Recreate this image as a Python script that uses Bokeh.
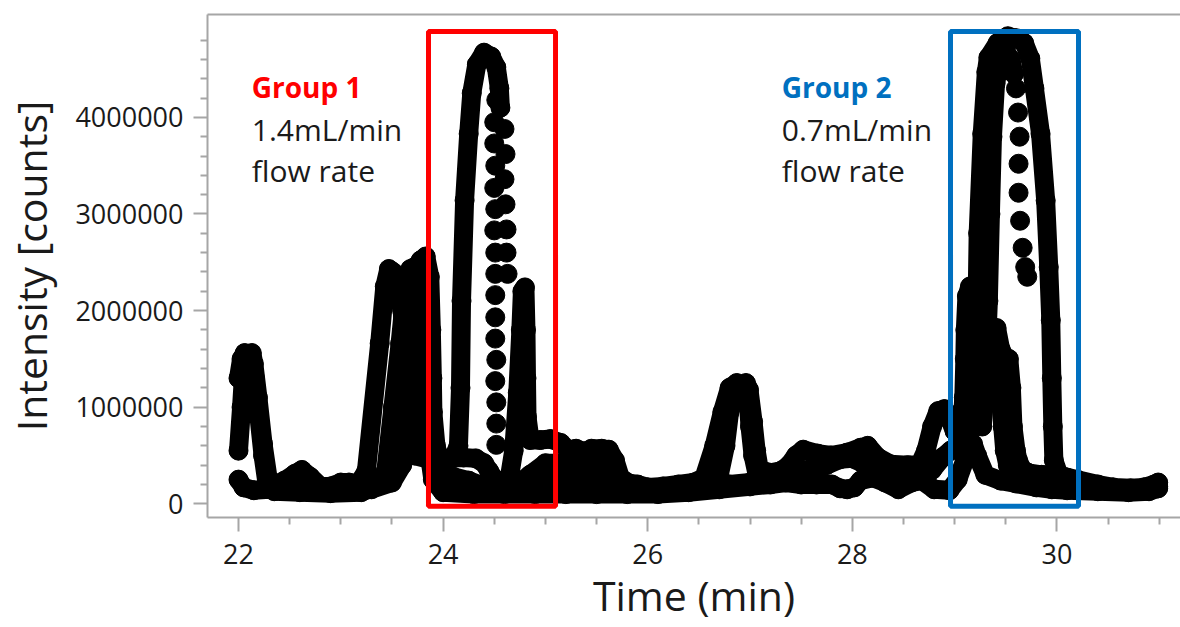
from bokeh.plotting import figure
from bokeh.models import (Range1d, FixedTicker, NumeralTickFormatter, LinearAxis,
                          BoxAnnotation, Label)
from bokeh.embed import file_html
from bokeh.resources import INLINE

# ---------------------------------------------------------------------------
# Overlaid chromatogram runs: retention time (min) and intensity (million counts)
# ---------------------------------------------------------------------------
run_a_time = [22.00, 22.03, 22.06, 22.10, 22.13, 22.15, 22.19, 22.24, 22.29, 22.36,
              22.45, 22.55, 22.62, 22.70, 22.80, 22.90, 23.00, 23.08, 23.15, 23.20,
              23.25, 23.38, 23.43, 23.47, 23.51, 23.56, 23.60, 23.64, 23.68, 23.72,
              23.90, 24.05, 24.20, 24.32, 24.40, 24.45, 24.50, 24.58, 24.64, 24.69,
              24.73, 24.76, 24.775, 24.80, 24.81, 24.815, 24.82, 24.85, 24.95, 25.05,
              25.15, 25.22, 25.30, 25.38, 25.45, 25.55, 25.62, 25.68, 25.73, 25.80,
              25.90, 26.00, 26.15, 26.30, 26.45, 26.55, 26.65, 26.73, 26.80, 26.87,
              26.92, 26.96, 26.99, 27.03, 27.06, 27.09, 27.20, 27.30, 27.38,
              27.45, 27.52, 27.66, 27.79, 27.95, 28.08, 28.15, 28.25, 28.37, 28.54,
              28.66, 28.72, 28.78, 28.84, 28.90, 28.95, 29.00, 29.10, 29.20, 29.28,
              29.33, 29.37, 29.41, 29.45, 29.49, 29.53, 29.555, 29.57, 29.60, 29.62,
              29.66, 29.72, 29.85, 30.00, 30.20, 30.40, 30.55, 30.72, 30.85, 30.95,
              30.99]
run_a_int = [1.30, 1.50, 1.56, 1.55, 1.56, 1.45, 1.10, 0.62, 0.26, 0.20,
             0.24, 0.31, 0.35, 0.28, 0.18, 0.18, 0.22, 0.22, 0.20, 0.25,
             0.34, 1.66, 2.25, 2.43, 2.40, 2.30, 2.00, 1.40, 0.80, 0.50,
             0.45, 0.47, 0.48, 0.47, 0.42, 0.34, 0.26, 0.17, 0.22, 0.55,
             1.15, 1.80, 2.20, 2.24, 1.80, 1.30, 0.90, 0.66, 0.66, 0.67,
             0.63, 0.56, 0.57, 0.54, 0.57, 0.57, 0.56, 0.45, 0.28, 0.22,
             0.20, 0.17, 0.18, 0.20, 0.22, 0.27, 0.60, 0.95, 1.20, 1.25,
             1.22, 1.25, 1.18, 0.85, 0.55, 0.36, 0.32, 0.34, 0.40,
             0.50, 0.56, 0.52, 0.50, 0.53, 0.58, 0.60, 0.48, 0.41, 0.40,
             0.41, 0.55, 0.80, 0.96, 0.98, 0.88, 0.75, 0.80, 0.85, 1.10,
             1.45, 1.78, 1.82, 1.60, 1.52, 1.50, 1.20, 0.80, 0.55, 0.45,
             0.36, 0.32, 0.30, 0.30, 0.25, 0.20, 0.17, 0.16, 0.17, 0.20,
             0.22]

run_b_time = [22.00, 22.03, 22.05, 22.08, 22.12, 22.16, 22.20, 22.24, 22.28, 22.35,
              22.60, 22.90, 23.20, 23.35, 23.44, 23.51, 23.58, 23.63, 23.68, 23.72,
              23.76, 23.80, 23.84, 23.90, 24.00, 24.30, 24.60, 24.90, 25.20, 25.50,
              25.80, 26.10, 26.40, 26.70, 27.00, 27.20, 27.35, 27.50, 27.65, 27.80,
              27.88, 27.95, 28.02, 28.08, 28.20, 28.32, 28.45, 28.58, 28.68, 28.80,
              28.95, 29.03, 29.10, 29.15, 29.18, 29.22, 29.30, 29.45, 29.60, 29.80,
              29.95, 30.10, 30.40, 30.70, 30.90, 30.99]
run_b_int = [0.55, 1.00, 1.35, 1.50, 1.52, 1.30, 0.90, 0.50, 0.20, 0.13,
             0.12, 0.11, 0.12, 0.18, 0.34, 1.00, 1.66, 2.20, 2.43, 2.45,
             2.25, 1.50, 0.70, 0.25, 0.12, 0.10, 0.10, 0.10, 0.10, 0.10,
             0.10, 0.10, 0.12, 0.15, 0.18, 0.20, 0.22, 0.20, 0.20, 0.20,
             0.16, 0.15, 0.17, 0.24, 0.27, 0.22, 0.15, 0.22, 0.24, 0.15,
             0.14, 0.25, 0.45, 0.60, 0.62, 0.50, 0.30, 0.24, 0.21, 0.17,
             0.15, 0.14, 0.13, 0.12, 0.13, 0.16]

run_c_time = [22.00, 22.05, 22.15, 22.30, 22.50, 22.70, 22.90, 23.10, 23.30, 23.50,
              23.60, 23.66, 23.72, 23.78, 23.83, 23.87, 23.885, 23.895, 23.90, 23.93,
              24.00, 24.10, 24.25, 24.40, 24.55, 24.70, 24.85, 25.00, 25.15, 25.30,
              25.45, 25.60, 25.70, 25.80, 25.95, 26.10, 26.30, 26.50, 26.80, 27.00,
              27.15, 27.30, 27.45, 27.60, 27.75, 27.88, 28.00, 28.10, 28.22, 28.35,
              28.50, 28.65, 28.78, 28.88, 28.96, 29.03, 29.07, 29.09, 29.10, 29.105,
              29.12, 29.15, 29.19, 29.28, 29.36, 29.44, 29.47, 29.49, 29.52, 29.60,
              29.80, 30.00, 30.30, 30.60, 30.85, 30.99]
run_c_int = [0.25, 0.17, 0.14, 0.15, 0.16, 0.14, 0.13, 0.14, 0.15, 0.22,
             0.40, 1.20, 2.20, 2.52, 2.56, 2.35, 1.80, 1.30, 0.95, 0.60,
             0.32, 0.28, 0.24, 0.18, 0.14, 0.18, 0.30, 0.42, 0.42, 0.38,
             0.40, 0.40, 0.30, 0.18, 0.15, 0.14, 0.16, 0.18, 0.20, 0.22,
             0.25, 0.30, 0.34, 0.36, 0.40, 0.46, 0.47, 0.42, 0.36, 0.32,
             0.30, 0.30, 0.35, 0.48, 0.55, 0.60, 0.80, 1.10, 1.50, 1.80,
             2.15, 2.25, 2.10, 1.75, 1.55, 1.20, 0.80, 0.55, 0.40, 0.30,
             0.25, 0.22, 0.19, 0.15, 0.15, 0.18]

run_d_time = [24.56, 24.70, 24.85, 25.00, 25.15, 25.30, 25.45, 25.60, 25.72, 25.85,
              26.00, 26.20, 26.40, 26.60, 26.70, 26.76, 26.80, 26.84, 26.90, 26.95,
              26.98, 27.00, 27.03, 27.07, 27.15, 27.25]
run_d_int = [0.13, 0.14, 0.20, 0.24, 0.26, 0.24, 0.25, 0.24, 0.18, 0.13,
             0.12, 0.13, 0.15, 0.17, 0.30, 0.60, 0.95, 1.15, 1.20, 1.18,
             1.10, 0.80, 0.50, 0.30, 0.25, 0.24]

# Group 1 main peak: densely sampled rise, sparsely sampled tail
g1_apex_time = [24.10, 24.15, 24.17, 24.18, 24.21, 24.25, 24.28, 24.33, 24.40, 24.47,
                24.52, 24.55, 24.56]
g1_apex_int = [0.48, 0.60, 1.20, 2.10, 3.14, 3.83, 4.25, 4.55, 4.67, 4.63,
               4.52, 4.30, 4.10]
g1_tail_time = [24.52, 24.50, 24.50, 24.51, 24.50, 24.51, 24.50, 24.51, 24.51, 24.51,
                24.51, 24.51, 24.52, 24.51, 24.52, 24.52, 24.52,
                24.60, 24.61, 24.60, 24.61, 24.62, 24.62, 24.63]
g1_tail_int = [4.18, 3.95, 3.73, 3.50, 3.27, 3.05, 2.83, 2.60, 2.38, 2.16,
               1.93, 1.71, 1.49, 1.27, 1.05, 0.83, 0.61,
               3.88, 3.62, 3.36, 3.10, 2.84, 2.60, 2.38]

# Group 2 main peak: two overlapping runs
g2_outer_time = [29.14, 29.17, 29.20, 29.22, 29.23, 29.27, 29.31, 29.33, 29.42, 29.52,
                 29.60, 29.68, 29.74, 29.78, 29.84, 29.89, 29.92, 29.94, 29.95, 29.96,
                 29.97, 30.02, 30.10]
g2_outer_int = [0.70, 1.00, 1.60, 2.10, 2.80, 3.83, 4.47, 4.62, 4.77, 4.84,
                4.82, 4.77, 4.61, 4.30, 3.83, 3.14, 2.45, 1.90, 1.30, 0.80,
                0.45, 0.30, 0.27]
g2_inner_time = [29.27, 29.30, 29.33, 29.35, 29.37, 29.40, 29.45, 29.50, 29.55, 29.58]
g2_inner_int = [0.80, 1.30, 2.10, 3.00, 3.80, 4.35, 4.62, 4.68, 4.60, 4.45]
g2_tail_time = [29.60, 29.62, 29.635, 29.625, 29.625, 29.64, 29.665, 29.69, 29.71]
g2_tail_int = [4.30, 4.05, 3.80, 3.52, 3.22, 2.93, 2.65, 2.45, 2.35]

# Highlighted retention windows (min) and their notes
group_windows = [(23.857, 25.099), (28.96, 30.211)]
group_titles = ["Group 1", "Group 2"]
group_rates = ["1.4mL/min", "0.7mL/min"]
group_colors = ["#FF0000", "#0070C0"]

# Axis ticks
time_ticks = [22, 24, 26, 28, 30]
time_minor = [22.5, 23, 23.5, 24.5, 25, 25.5, 26.5, 27, 27.5, 28.5, 29, 29.5, 30.5, 31]
intensity_ticks = [0, 1000000, 2000000, 3000000, 4000000]
intensity_minor = [200000, 400000, 600000, 800000, 1200000, 1400000, 1600000, 1800000,
                   2200000, 2400000, 2600000, 2800000, 3200000, 3400000, 3600000,
                   3800000, 4200000, 4400000, 4600000, 4800000]

MILLION = 1e6
DOT = 19
AXIS_GRAY = "#a6a6a6"
TEXT = "#1a1a1a"
FONT = "Open Sans"


def counts(values):
    return [v * MILLION for v in values]


p = figure(width=1180, height=627, output_backend="svg", toolbar_location=None,
           x_range=Range1d(21.697, 31.208), y_range=Range1d(-0.142e6, 5.065e6),
           min_border_left=207, min_border_right=0, min_border_top=14,
           min_border_bottom=110)
p.background_fill_color = "white"
p.border_fill_color = "white"
p.outline_line_color = None
p.xgrid.visible = False
p.ygrid.visible = False

# runs sampled densely enough that the markers merge into a band
banded = [(run_a_time, run_a_int), (run_b_time, run_b_int), (run_c_time, run_c_int),
          (run_d_time, run_d_int), (g1_apex_time, g1_apex_int),
          (g2_outer_time, g2_outer_int), (g2_inner_time, g2_inner_int)]
for t, v in banded:
    y = counts(v)
    p.line(t, y, line_width=DOT, line_color="black", line_join="round", line_cap="round")
    p.scatter(t, y, marker="circle", size=DOT, fill_color="black", line_color="black")

# sparse tails where single markers stand apart
for t, v in [(g1_tail_time, g1_tail_int), (g2_tail_time, g2_tail_int)]:
    p.scatter(t, counts(v), marker="circle", size=DOT, fill_color="black", line_color="black")

# highlight windows
for (left, right), color in zip(group_windows, group_colors):
    p.add_layout(BoxAnnotation(left=left, right=right, bottom=-0.025e6, top=4.889e6,
                               fill_color=None, fill_alpha=0, line_color=color,
                               line_alpha=1.0, line_width=5))

# window notes
note_x = [22.13, 27.31]
for x, title, rate, color in zip(note_x, group_titles, group_rates, group_colors):
    p.add_layout(Label(x=x, y=4.31e6, text=title, text_color=color, text_font=FONT,
                       text_font_style="bold", text_font_size="28px",
                       text_baseline="alphabetic"))
    p.add_layout(Label(x=x, y=3.877e6, text=rate, text_color=TEXT, text_font=FONT,
                       text_font_size="30px", text_baseline="alphabetic"))
    p.add_layout(Label(x=x, y=3.452e6, text="flow rate", text_color=TEXT,
                       text_font=FONT, text_font_size="30px", text_baseline="alphabetic"))

# axes
p.xaxis.ticker = FixedTicker(ticks=time_ticks, minor_ticks=time_minor)
p.yaxis.ticker = FixedTicker(ticks=intensity_ticks, minor_ticks=intensity_minor)
p.yaxis.formatter = NumeralTickFormatter(format="0")
p.xaxis.axis_label = "Time (min)"
p.yaxis.axis_label = "Intensity [counts]"

for ax in (p.xaxis[0], p.yaxis[0]):
    ax.axis_line_color = AXIS_GRAY
    ax.axis_line_width = 2
    ax.major_tick_line_color = AXIS_GRAY
    ax.major_tick_line_width = 2
    ax.major_tick_out = 14
    ax.major_tick_in = 0
    ax.minor_tick_line_color = AXIS_GRAY
    ax.minor_tick_line_width = 2
    ax.minor_tick_out = 7
    ax.minor_tick_in = 0
    ax.major_label_text_font = FONT
    ax.major_label_text_font_size = "27px"
    ax.major_label_text_color = TEXT
    ax.axis_label_text_font = FONT
    ax.axis_label_text_font_size = "41px"
    ax.axis_label_text_font_style = "normal"
    ax.axis_label_text_color = TEXT

p.xaxis.major_label_standoff = 12
p.xaxis.axis_label_standoff = 0
p.yaxis.major_label_standoff = 10
p.yaxis.axis_label_standoff = 13

top_axis = LinearAxis(ticker=FixedTicker(ticks=[]), axis_line_color=AXIS_GRAY,
                      axis_line_width=2, major_tick_line_color=None,
                      minor_tick_line_color=None, major_label_text_font_size="0px",
                      major_label_standoff=0, major_tick_out=0, minor_tick_out=0)
p.add_layout(top_axis, "above")

open("out.html", "w").write(file_html(p, INLINE))
